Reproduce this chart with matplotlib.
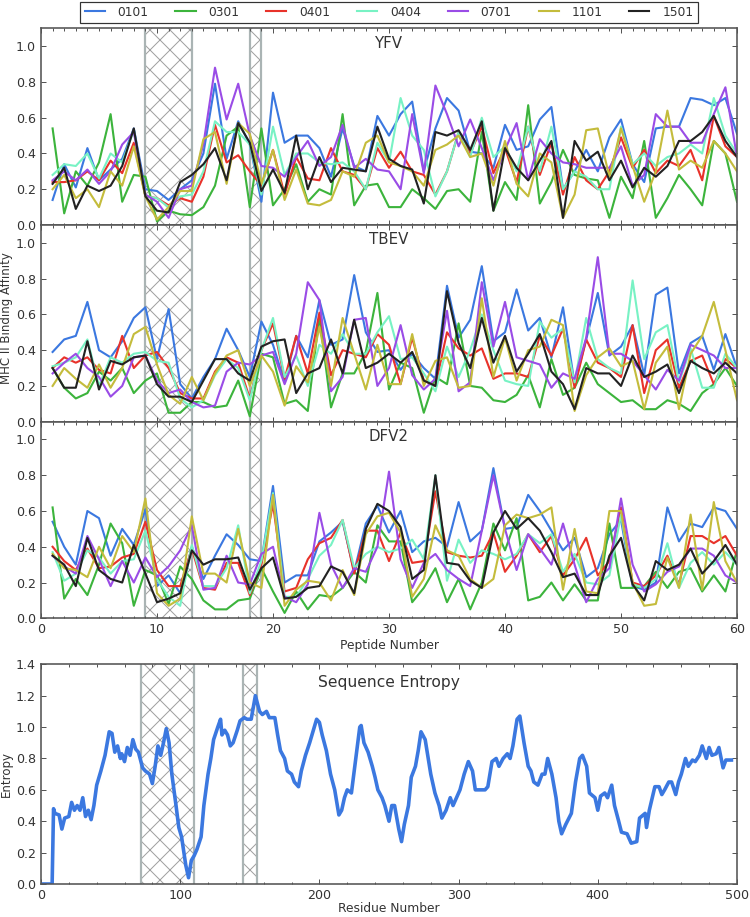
import matplotlib
matplotlib.use("Agg")
import matplotlib.pyplot as plt
from matplotlib.ticker import MultipleLocator
import numpy as np

# ---------------- data ----------------
alleles = ["0101", "0301", "0401", "0404", "0701", "1101", "1501"]
colors = ["#3b78e0", "#3cb43c", "#e8322a", "#78f2c4", "#9a4ce6", "#c4bc3c", "#222222"]
panels = ["YFV", "TBEV", "DFV2"]
peptides = list(range(1, 61))

yfv_0101 = [0.14, 0.34, 0.21, 0.43, 0.25, 0.31, 0.37, 0.54, 0.2, 0.19, 0.14, 0.2, 0.25, 0.4, 0.79, 0.37, 0.58, 0.45, 0.13, 0.74, 0.46, 0.5, 0.5, 0.43, 0.27, 0.54, 0.33, 0.3, 0.61,
            0.5, 0.62, 0.69, 0.3, 0.54, 0.71, 0.64, 0.41, 0.4, 0.32, 0.56, 0.42, 0.44, 0.59, 0.66, 0.2, 0.3, 0.42, 0.3, 0.49, 0.59, 0.34, 0.24, 0.54, 0.55, 0.55, 0.71, 0.7, 0.67, 0.71, 0.51]
yfv_0301 = [0.54, 0.065, 0.3, 0.22, 0.35, 0.62, 0.13, 0.28, 0.27, 0.02, 0.08, 0.06, 0.055, 0.1, 0.22, 0.5, 0.55, 0.1, 0.54, 0.11, 0.2, 0.34, 0.13, 0.2, 0.17, 0.62, 0.11, 0.22, 0.23,
            0.1, 0.1, 0.2, 0.15, 0.09, 0.19, 0.2, 0.13, 0.52, 0.08, 0.24, 0.14, 0.67, 0.12, 0.24, 0.42, 0.28, 0.26, 0.25, 0.04, 0.27, 0.15, 0.47, 0.04, 0.15, 0.28, 0.2, 0.11, 0.47, 0.4, 0.13]
yfv_0401 = [0.24, 0.24, 0.25, 0.3, 0.25, 0.36, 0.29, 0.46, 0.16, 0.15, 0.11, 0.15, 0.13, 0.27, 0.56, 0.35, 0.39, 0.3, 0.22, 0.42, 0.17, 0.38, 0.26, 0.25, 0.43, 0.3, 0.28, 0.2, 0.43,
            0.32, 0.41, 0.3, 0.28, 0.17, 0.3, 0.52, 0.4, 0.55, 0.29, 0.43, 0.24, 0.55, 0.28, 0.46, 0.17, 0.38, 0.25, 0.2, 0.3, 0.49, 0.32, 0.42, 0.29, 0.36, 0.33, 0.42, 0.25, 0.61, 0.44, 0.38]
yfv_0404 = [0.28, 0.34, 0.33, 0.4, 0.26, 0.4, 0.35, 0.53, 0.16, 0.15, 0.1, 0.16, 0.17, 0.3, 0.58, 0.52, 0.52, 0.45, 0.17, 0.55, 0.28, 0.4, 0.4, 0.35, 0.34, 0.35, 0.3, 0.2, 0.46,
            0.35, 0.71, 0.5, 0.42, 0.16, 0.3, 0.52, 0.38, 0.6, 0.38, 0.44, 0.3, 0.55, 0.3, 0.55, 0.2, 0.3, 0.27, 0.2, 0.2, 0.55, 0.34, 0.4, 0.33, 0.38, 0.4, 0.45, 0.4, 0.71, 0.5, 0.4]
yfv_0701 = [0.25, 0.3, 0.25, 0.31, 0.23, 0.3, 0.45, 0.52, 0.17, 0.13, 0.04, 0.2, 0.22, 0.45, 0.88, 0.59, 0.79, 0.5, 0.33, 0.32, 0.27, 0.38, 0.47, 0.33, 0.38, 0.56, 0.32, 0.37, 0.31,
            0.3, 0.2, 0.62, 0.29, 0.78, 0.62, 0.44, 0.59, 0.43, 0.25, 0.42, 0.57, 0.25, 0.48, 0.4, 0.35, 0.34, 0.32, 0.32, 0.32, 0.44, 0.22, 0.28, 0.62, 0.55, 0.55, 0.46, 0.46, 0.62, 0.77, 0.38]
yfv_1101 = [0.2, 0.28, 0.15, 0.2, 0.1, 0.3, 0.22, 0.44, 0.16, 0.03, 0.1, 0.19, 0.19, 0.48, 0.52, 0.23, 0.57, 0.51, 0.23, 0.42, 0.14, 0.31, 0.12, 0.11, 0.14, 0.3, 0.27, 0.46, 0.5,
            0.35, 0.33, 0.3, 0.22, 0.42, 0.45, 0.5, 0.38, 0.4, 0.22, 0.47, 0.23, 0.16, 0.4, 0.35, 0.04, 0.17, 0.53, 0.54, 0.27, 0.54, 0.33, 0.13, 0.3, 0.64, 0.31, 0.36, 0.32, 0.47, 0.4, 0.3]
yfv_1501 = [0.23, 0.32, 0.09, 0.22, 0.19, 0.22, 0.33, 0.54, 0.16, 0.08, 0.07, 0.24, 0.28, 0.34, 0.43, 0.25, 0.57, 0.46, 0.19, 0.31, 0.18, 0.5, 0.2, 0.38, 0.24, 0.32, 0.31, 0.3, 0.55,
            0.37, 0.33, 0.31, 0.12, 0.52, 0.5, 0.53, 0.42, 0.58, 0.08, 0.43, 0.32, 0.25, 0.36, 0.47, 0.04, 0.47, 0.36, 0.41, 0.25, 0.36, 0.21, 0.32, 0.27, 0.33, 0.47, 0.47, 0.52, 0.61, 0.47, 0.38]

tbev_0101 = [0.39, 0.46, 0.48, 0.67, 0.4, 0.36, 0.45, 0.58, 0.64, 0.35, 0.63, 0.21, 0.13, 0.25, 0.35, 0.52, 0.4, 0.25, 0.56, 0.43, 0.22, 0.48, 0.36, 0.68, 0.43, 0.46, 0.82, 0.5, 0.39,
             0.4, 0.29, 0.38, 0.3, 0.24, 0.76, 0.47, 0.57, 0.87, 0.45, 0.5, 0.74, 0.51, 0.58, 0.36, 0.64, 0.21, 0.46, 0.72, 0.37, 0.42, 0.54, 0.26, 0.71, 0.75, 0.27, 0.44, 0.48, 0.29, 0.49, 0.3]
tbev_0301 = [0.3, 0.19, 0.13, 0.16, 0.28, 0.23, 0.3, 0.16, 0.23, 0.27, 0.05, 0.05, 0.11, 0.11, 0.08, 0.09, 0.23, 0.03, 0.38, 0.36, 0.1, 0.12, 0.06, 0.59, 0.08, 0.27, 0.27, 0.39, 0.72,
             0.18, 0.33, 0.3, 0.05, 0.25, 0.21, 0.55, 0.2, 0.19, 0.12, 0.11, 0.15, 0.26, 0.08, 0.35, 0.15, 0.19, 0.33, 0.21, 0.16, 0.11, 0.12, 0.07, 0.07, 0.12, 0.1, 0.06, 0.16, 0.21, 0.3, 0.2]
tbev_0401 = [0.3, 0.36, 0.33, 0.36, 0.29, 0.27, 0.48, 0.3, 0.37, 0.39, 0.3, 0.16, 0.13, 0.13, 0.28, 0.36, 0.33, 0.13, 0.4, 0.55, 0.24, 0.48, 0.27, 0.61, 0.26, 0.4, 0.38, 0.36, 0.49,
             0.43, 0.21, 0.47, 0.23, 0.2, 0.5, 0.41, 0.37, 0.41, 0.24, 0.27, 0.27, 0.25, 0.48, 0.37, 0.52, 0.19, 0.46, 0.33, 0.3, 0.25, 0.54, 0.16, 0.4, 0.46, 0.19, 0.34, 0.37, 0.21, 0.35, 0.3]
tbev_0404 = [0.31, 0.33, 0.36, 0.46, 0.2, 0.36, 0.33, 0.38, 0.39, 0.34, 0.33, 0.13, 0.08, 0.12, 0.26, 0.35, 0.3, 0.12, 0.4, 0.58, 0.25, 0.37, 0.2, 0.43, 0.38, 0.49, 0.38, 0.38, 0.5,
             0.59, 0.35, 0.36, 0.27, 0.17, 0.42, 0.25, 0.4, 0.6, 0.4, 0.23, 0.21, 0.2, 0.56, 0.47, 0.52, 0.22, 0.58, 0.35, 0.3, 0.27, 0.79, 0.35, 0.5, 0.54, 0.22, 0.41, 0.19, 0.19, 0.38, 0.3]
tbev_0701 = [0.27, 0.33, 0.38, 0.3, 0.25, 0.14, 0.2, 0.36, 0.37, 0.23, 0.16, 0.18, 0.11, 0.08, 0.09, 0.28, 0.33, 0.32, 0.37, 0.39, 0.21, 0.38, 0.78, 0.68, 0.17, 0.25, 0.57, 0.58, 0.2,
             0.3, 0.54, 0.26, 0.18, 0.24, 0.62, 0.17, 0.22, 0.78, 0.42, 0.67, 0.36, 0.34, 0.32, 0.19, 0.27, 0.24, 0.47, 0.92, 0.38, 0.38, 0.34, 0.26, 0.18, 0.29, 0.23, 0.43, 0.4, 0.37, 0.3, 0.3]
tbev_1101 = [0.2, 0.3, 0.24, 0.19, 0.32, 0.19, 0.3, 0.49, 0.53, 0.32, 0.15, 0.1, 0.25, 0.12, 0.27, 0.37, 0.4, 0.2, 0.37, 0.28, 0.09, 0.31, 0.22, 0.53, 0.2, 0.58, 0.38, 0.18, 0.43,
             0.21, 0.21, 0.49, 0.2, 0.34, 0.36, 0.19, 0.2, 0.69, 0.25, 0.47, 0.23, 0.4, 0.42, 0.57, 0.54, 0.06, 0.26, 0.36, 0.41, 0.31, 0.34, 0.07, 0.33, 0.42, 0.07, 0.38, 0.48, 0.67, 0.4, 0.12]
tbev_1501 = [0.3, 0.19, 0.19, 0.45, 0.18, 0.34, 0.32, 0.36, 0.37, 0.21, 0.14, 0.14, 0.11, 0.23, 0.35, 0.35, 0.27, 0.23, 0.42, 0.45, 0.46, 0.16, 0.27, 0.3, 0.46, 0.27, 0.57, 0.3, 0.33,
             0.38, 0.33, 0.39, 0.23, 0.2, 0.73, 0.44, 0.3, 0.58, 0.33, 0.48, 0.28, 0.38, 0.49, 0.28, 0.21, 0.07, 0.3, 0.27, 0.27, 0.2, 0.37, 0.25, 0.28, 0.32, 0.16, 0.34, 0.3, 0.27, 0.33, 0.27]

dfv2_0101 = [0.54, 0.4, 0.3, 0.6, 0.56, 0.35, 0.5, 0.41, 0.61, 0.18, 0.24, 0.14, 0.4, 0.22, 0.35, 0.47, 0.41, 0.33, 0.32, 0.74, 0.2, 0.24, 0.24, 0.43, 0.48, 0.54, 0.26, 0.53, 0.63,
             0.48, 0.6, 0.37, 0.43, 0.45, 0.4, 0.65, 0.43, 0.49, 0.84, 0.5, 0.51, 0.69, 0.6, 0.49, 0.38, 0.45, 0.23, 0.28, 0.47, 0.55, 0.18, 0.16, 0.2, 0.62, 0.43, 0.53, 0.51, 0.62, 0.6, 0.5]
dfv2_0301 = [0.62, 0.11, 0.22, 0.13, 0.3, 0.53, 0.42, 0.07, 0.27, 0.24, 0.08, 0.29, 0.22, 0.1, 0.05, 0.05, 0.1, 0.11, 0.28, 0.15, 0.03, 0.15, 0.05, 0.13, 0.12, 0.17, 0.26, 0.2, 0.52,
             0.43, 0.43, 0.09, 0.17, 0.28, 0.09, 0.22, 0.05, 0.2, 0.53, 0.38, 0.56, 0.1, 0.12, 0.2, 0.1, 0.19, 0.1, 0.1, 0.53, 0.17, 0.17, 0.18, 0.26, 0.17, 0.26, 0.28, 0.15, 0.24, 0.15, 0.38]
dfv2_0401 = [0.4, 0.32, 0.27, 0.39, 0.28, 0.29, 0.34, 0.36, 0.54, 0.27, 0.18, 0.18, 0.39, 0.17, 0.16, 0.31, 0.31, 0.13, 0.3, 0.64, 0.15, 0.17, 0.33, 0.42, 0.45, 0.55, 0.25, 0.49, 0.49,
             0.32, 0.48, 0.31, 0.32, 0.71, 0.37, 0.35, 0.34, 0.35, 0.48, 0.26, 0.35, 0.47, 0.37, 0.46, 0.24, 0.33, 0.45, 0.24, 0.32, 0.62, 0.2, 0.18, 0.24, 0.35, 0.19, 0.46, 0.46, 0.42, 0.46, 0.35]
dfv2_0404 = [0.37, 0.21, 0.25, 0.38, 0.34, 0.25, 0.32, 0.33, 0.49, 0.22, 0.12, 0.07, 0.41, 0.18, 0.18, 0.28, 0.52, 0.14, 0.32, 0.7, 0.12, 0.12, 0.22, 0.35, 0.41, 0.55, 0.28, 0.36, 0.4,
             0.37, 0.39, 0.44, 0.33, 0.8, 0.21, 0.44, 0.31, 0.38, 0.36, 0.33, 0.36, 0.47, 0.42, 0.47, 0.26, 0.36, 0.2, 0.19, 0.24, 0.58, 0.19, 0.17, 0.22, 0.42, 0.17, 0.31, 0.37, 0.3, 0.37, 0.3]
dfv2_0701 = [0.35, 0.29, 0.25, 0.46, 0.33, 0.18, 0.32, 0.2, 0.34, 0.23, 0.29, 0.38, 0.52, 0.16, 0.17, 0.35, 0.2, 0.19, 0.36, 0.4, 0.12, 0.09, 0.19, 0.59, 0.3, 0.17, 0.28, 0.26, 0.4,
             0.82, 0.33, 0.17, 0.31, 0.36, 0.27, 0.22, 0.18, 0.49, 0.8, 0.5, 0.27, 0.47, 0.39, 0.3, 0.53, 0.3, 0.09, 0.22, 0.28, 0.67, 0.3, 0.15, 0.19, 0.26, 0.29, 0.39, 0.39, 0.35, 0.24, 0.2]
dfv2_1101 = [0.36, 0.28, 0.27, 0.23, 0.4, 0.28, 0.46, 0.37, 0.67, 0.14, 0.07, 0.11, 0.57, 0.25, 0.25, 0.2, 0.5, 0.2, 0.17, 0.69, 0.07, 0.16, 0.21, 0.2, 0.1, 0.27, 0.13, 0.47, 0.57,
             0.59, 0.48, 0.12, 0.22, 0.52, 0.38, 0.35, 0.22, 0.17, 0.22, 0.52, 0.58, 0.56, 0.58, 0.62, 0.16, 0.5, 0.15, 0.14, 0.6, 0.6, 0.2, 0.07, 0.08, 0.34, 0.17, 0.58, 0.16, 0.65, 0.32, 0.2]
dfv2_1501 = [0.35, 0.3, 0.18, 0.45, 0.27, 0.22, 0.2, 0.41, 0.25, 0.09, 0.11, 0.14, 0.38, 0.3, 0.33, 0.33, 0.34, 0.16, 0.28, 0.34, 0.11, 0.12, 0.17, 0.18, 0.29, 0.26, 0.14, 0.5, 0.64,
             0.6, 0.51, 0.22, 0.27, 0.8, 0.31, 0.3, 0.21, 0.17, 0.48, 0.6, 0.5, 0.56, 0.49, 0.37, 0.23, 0.25, 0.13, 0.13, 0.35, 0.45, 0.19, 0.1, 0.32, 0.27, 0.3, 0.39, 0.25, 0.32, 0.41, 0.3]

peptide_hatches = [(9, 13), (18, 19)]
residue_hatches = [(72, 110), (145, 155)]

residues = [0, 8, 9, 10, 13, 15, 17, 20, 22, 24, 26, 28, 30, 32, 34, 36, 38, 40, 43, 46, 49, 51, 53, 55, 57, 58,
            60, 62, 64, 66, 68, 70, 73, 75, 78, 80, 82, 84, 86, 88, 90, 92, 94, 97, 99, 101, 104, 106, 108, 110,
            112, 115, 117, 120, 122, 124, 127, 129, 130, 132, 134, 136, 138, 141, 143, 146, 148, 151, 153, 154,
            157, 159, 162, 164, 168, 170, 172, 175, 177, 180, 182, 185, 187, 190, 193, 195, 198, 200, 202, 205,
            208, 211, 214, 216, 218, 220, 223, 225, 229, 230, 232, 235, 238, 240, 242, 245, 247, 250, 252, 254,
            257, 259, 261, 264, 266, 269, 271, 273, 276, 280, 283, 286, 288, 291, 294, 296, 299, 301, 304, 307,
            310, 312, 315, 319, 321, 324, 327, 329, 332, 335, 337, 339, 342, 344, 347, 350, 352, 354, 357, 360,
            362, 364, 367, 370, 372, 374, 377, 381, 384, 387, 389, 392, 394, 398, 400, 402, 405, 407, 410, 412,
            415, 417, 421, 424, 428, 430, 434, 435, 437, 441, 444, 446, 448, 451, 453, 456, 458, 460, 463, 465,
            468, 470, 473, 475, 478, 480, 482, 485, 487, 490, 492, 496]
entropy = [0, 0, 0.48, 0.45, 0.44, 0.35, 0.42, 0.43, 0.52, 0.47, 0.5, 0.47, 0.55, 0.43, 0.47, 0.41, 0.5, 0.63, 0.72, 0.82, 0.97, 0.96, 0.84, 0.88, 0.8, 0.83,
           0.78, 0.87, 0.82, 0.92, 0.86, 0.84, 0.74, 0.72, 0.7, 0.64, 0.75, 0.88, 0.82, 0.9, 0.99, 0.9, 0.7, 0.5, 0.36, 0.3, 0.12, 0.04, 0.15, 0.18,
           0.22, 0.3, 0.5, 0.7, 0.8, 0.92, 1.0, 1.05, 0.95, 0.98, 0.95, 0.88, 0.9, 0.98, 1.04, 1.06, 1.05, 1.05, 1.15, 1.2,
           1.1, 1.08, 1.1, 1.06, 1.06, 0.95, 0.85, 0.8, 0.72, 0.7, 0.65, 0.62, 0.72, 0.82, 0.9, 0.96, 1.05, 1.03, 0.95, 0.85,
           0.7, 0.6, 0.44, 0.47, 0.55, 0.6, 0.58, 0.72, 1.0, 1.01, 0.9, 0.84, 0.75, 0.68, 0.6, 0.55, 0.5, 0.4, 0.5, 0.5,
           0.35, 0.27, 0.38, 0.5, 0.68, 0.75, 0.85, 0.97, 0.92, 0.7, 0.58, 0.5, 0.42, 0.47, 0.55, 0.5, 0.56, 0.6, 0.7, 0.78,
           0.72, 0.6, 0.6, 0.6, 0.62, 0.78, 0.8, 0.75, 0.8, 0.83, 0.8, 0.88, 1.05, 1.07, 0.9, 0.75, 0.72, 0.65, 0.63, 0.7,
           0.7, 0.8, 0.7, 0.55, 0.4, 0.32, 0.38, 0.45, 0.65, 0.8, 0.82, 0.75, 0.58, 0.55, 0.47, 0.56, 0.58, 0.55, 0.63, 0.5,
           0.4, 0.33, 0.32, 0.26, 0.27, 0.42, 0.45, 0.36, 0.47, 0.62, 0.62, 0.57, 0.6, 0.65, 0.65, 0.57, 0.65, 0.7, 0.8, 0.75,
           0.79, 0.78, 0.82, 0.88, 0.8, 0.87, 0.82, 0.83, 0.87, 0.74, 0.79, 0.79]

binding = {
    "YFV": [yfv_0101, yfv_0301, yfv_0401, yfv_0404, yfv_0701, yfv_1101, yfv_1501],
    "TBEV": [tbev_0101, tbev_0301, tbev_0401, tbev_0404, tbev_0701, tbev_1101, tbev_1501],
    "DFV2": [dfv2_0101, dfv2_0301, dfv2_0401, dfv2_0404, dfv2_0701, dfv2_1101, dfv2_1501],
}

# ---------------- style ----------------
DPI = 120
def pt(px):
    return px * 72.0 / DPI

plt.rcParams["font.family"] = ["DejaVu Sans"]
plt.rcParams["hatch.linewidth"] = pt(1.0)
SPINE = "#555555"
TXT = "#333333"
HATCH = "#a0a0a0"
BORDER = "#aab4b4"

fig = plt.figure(figsize=(750 / DPI, 917 / DPI), dpi=DPI)

L = 41 / 750
W = 696 / 750
H = 196.7 / 917
bottoms = [1 - 225 / 917, 1 - 421.7 / 917, 1 - 618.3 / 917]


def style_axis(ax):
    for s in ax.spines.values():
        s.set_color(SPINE)
        s.set_linewidth(pt(1.6))
    ax.tick_params(which="both", direction="in", top=True, right=True, colors=SPINE,
                   labelcolor=TXT, labelsize=pt(12.6), width=pt(1.0))
    ax.tick_params(which="major", length=pt(5), pad=pt(5))
    ax.tick_params(which="minor", length=pt(2.5))


def add_hatches(ax, spans):
    for a, b in spans:
        ax.axvspan(a, b, facecolor="none", edgecolor=HATCH, hatch="xx", linewidth=0, zorder=0.5)
        ax.axvline(a, color=BORDER, lw=pt(2.2), zorder=0.6)
        ax.axvline(b, color=BORDER, lw=pt(2.2), zorder=0.6)


axes = []
for i, name in enumerate(panels):
    ax = fig.add_axes([L, bottoms[i], W, H])
    add_hatches(ax, peptide_hatches)
    for allele, col, vals in zip(alleles, colors, binding[name]):
        ax.plot(peptides, vals, color=col, lw=pt(2.1), label=allele, zorder=2)
    ax.set_xlim(0, 60)
    ax.set_ylim(0, 1.1)
    ax.set_yticks([0.0, 0.2, 0.4, 0.6, 0.8, 1.0])
    ax.xaxis.set_major_locator(MultipleLocator(10))
    ax.xaxis.set_minor_locator(MultipleLocator(1))
    style_axis(ax)
    if i < 2:
        ax.tick_params(labelbottom=False)
    ax.text(0.5, 0.925, name, transform=ax.transAxes, ha="center", va="center",
            fontsize=pt(15), color=TXT)
    axes.append(ax)

fig.text(389 / 750, 1 - 646 / 917, "Peptide Number", ha="center", va="center",
         fontsize=pt(12.3), color=TXT)
fig.text(6.5 / 750, 1 - 318 / 917, "MHC II Binding Affinity", rotation=90, ha="center",
         va="center", fontsize=pt(11.8), color=TXT)

handles, labels = axes[0].get_legend_handles_labels()
leg = fig.legend(handles, labels, loc="upper center", bbox_to_anchor=(389 / 750, 1 - 1.5 / 917),
                 ncol=7, fontsize=pt(12.2), frameon=True, fancybox=False,
                 handlelength=1.65, handletextpad=1.05, columnspacing=2.2,
                 borderpad=0.35, borderaxespad=0.0)
leg.get_frame().set_edgecolor("black")
leg.get_frame().set_linewidth(pt(1.2))
for t in leg.get_texts():
    t.set_color(TXT)

# entropy panel
ax4 = fig.add_axes([L, 1 - 884 / 917, W, 219.7 / 917])
add_hatches(ax4, residue_hatches)
ax4.plot(residues, entropy, color="#3b78e0", lw=pt(3.6), zorder=2, solid_joinstyle="round")
ax4.set_xlim(0, 500)
ax4.set_ylim(0, 1.4)
ax4.set_yticks([0.0, 0.2, 0.4, 0.6, 0.8, 1.0, 1.2, 1.4])
ax4.xaxis.set_major_locator(MultipleLocator(100))
ax4.xaxis.set_minor_locator(MultipleLocator(20))
style_axis(ax4)
ax4.text(0.5, 0.919, "Sequence Entropy", transform=ax4.transAxes, ha="center", va="center",
         fontsize=pt(15.5), color=TXT)
fig.text(6.5 / 750, 1 - 774 / 917, "Entropy", rotation=90, ha="center", va="center",
         fontsize=pt(11.8), color=TXT)
fig.text(389 / 750, 1 - 908 / 917, "Residue Number", ha="center", va="center",
         fontsize=pt(12.3), color=TXT)

fig.savefig("out.png", dpi=DPI)
